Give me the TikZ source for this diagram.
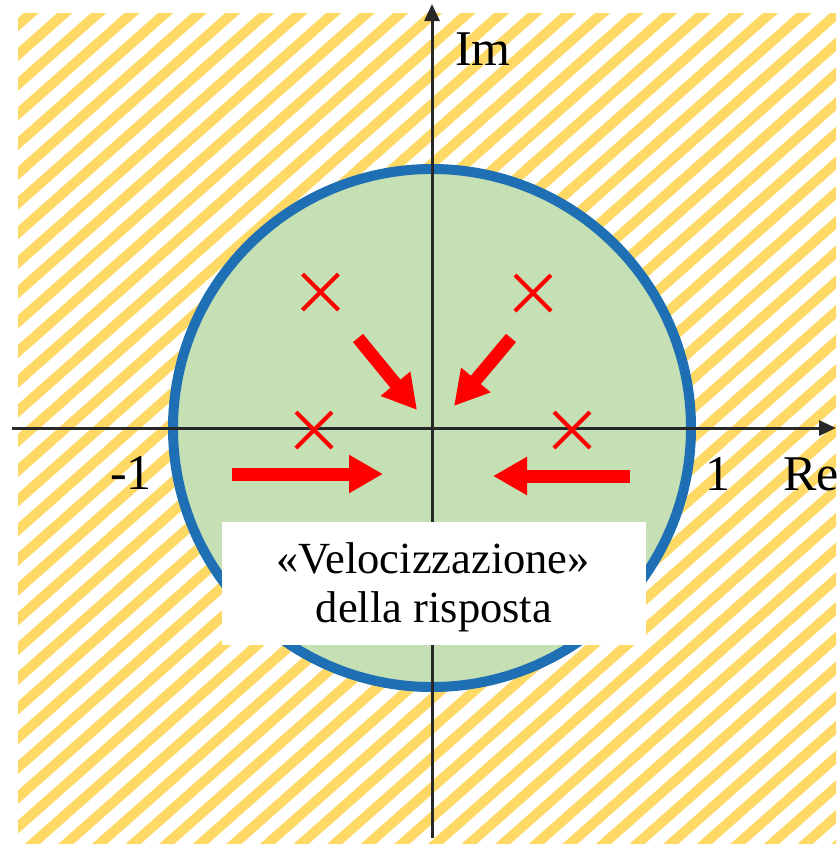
\documentclass[tikz,border=0pt]{standalone}
\usepackage{fontspec}
\setmainfont{Liberation Serif}
\usetikzlibrary{arrows.meta,shapes.misc}
\definecolor{hatchyellow}{RGB}{255,217,102}
\definecolor{stablegreen}{RGB}{197,224,180}
\definecolor{circleblue}{RGB}{31,111,180}
\definecolor{axisgray}{RGB}{40,40,40}
\definecolor{polered}{RGB}{255,0,0}
\tikzset{
  axisline/.style={draw=axisgray, line width=3pt, -{Triangle[length=17pt,width=15pt]}},
  pole/.style={draw=polered, line width=4pt, cross out, minimum size=32pt, inner sep=0pt},
  bigarrow/.style={draw=polered, line width=13pt, line cap=butt, -{Triangle[length=34pt,width=36pt]}},
  lbl/.style={font=\fontsize{50}{52}\selectfont, text=black, inner sep=0pt},
  boxtext/.style={font=\fontsize{44.5}{49}\selectfont, text=black, inner sep=0pt, anchor=base},
  whitebox/.style={fill=white, minimum width=424pt, minimum height=123pt, inner sep=0pt},
}
\begin{document}
\begin{tikzpicture}[x=1pt,y=-1pt]
\useasboundingbox (0,0) rectangle (836,844);
% hatched unstable region
\begin{scope}
  \clip (18,13) rectangle (836,844);
  \foreach \k in {-35,...,27} {
    \pgfmathsetmacro{\c}{2.5+33.6*\k}
    \draw[hatchyellow, line width=10pt] (\c,900) -- ({\c+1.131*900},0);
  }
\end{scope}
% unit circle
\filldraw[fill=stablegreen, draw=circleblue, line width=10pt] (432,428) circle[radius=259pt];
% axes
\coordinate (xs) at (12,428);
\coordinate (xe) at (836,428);
\coordinate (ys) at (432,838);
\coordinate (ye) at (432,4);
\draw[axisline] (xs) -- (xe);
\draw[axisline] (ys) -- (ye);
% poles
\node[pole] (p1) at (320.5,292) {};
\node[pole] (p2) at (533,293) {};
\node[pole] (p3) at (314,430) {};
\node[pole] (p4) at (572,430) {};
% arrows
\coordinate (a1s) at (358,338);
\coordinate (a1e) at (417,410);
\coordinate (a2s) at (511,338);
\coordinate (a2e) at (454,406);
\coordinate (a3s) at (232,474);
\coordinate (a3e) at (383,474);
\coordinate (a4s) at (630,476);
\coordinate (a4e) at (493,476);
\draw[bigarrow] (a1s) -- (a1e);
\draw[bigarrow] (a2s) -- (a2e);
\draw[bigarrow] (a3s) -- (a3e);
\draw[bigarrow] (a4s) -- (a4e);
% text box
\node[whitebox] (box) at (434,583.5) {};
\node[boxtext] (t1) at (433,573) {«Velocizzazione»};
\node[boxtext] (t2) at (434,622) {della risposta};
% labels
\node[lbl, anchor=base west] (im) at (455,65) {Im};
\node[lbl, anchor=base west] (re) at (783,490) {Re};
\node[lbl, anchor=base west] (m1) at (110,489) {-1};
\node[lbl, anchor=base west] (p1l) at (705,490) {1};
\end{tikzpicture}
\end{document}
